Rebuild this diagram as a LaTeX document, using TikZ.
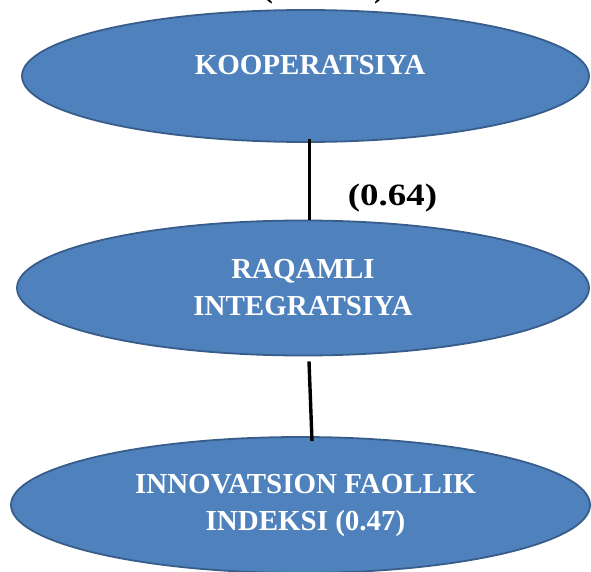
\documentclass[tikz,border=0pt]{standalone}
\usepackage{fontspec}
\setmainfont{Liberation Serif}
\usetikzlibrary{shapes.geometric}
\definecolor{ovalfill}{HTML}{4F81BD}
\definecolor{ovalline}{HTML}{385D8A}
\begin{document}
\begin{tikzpicture}[x=1pt,y=-1pt,
  oval/.style={ellipse, fill=ovalfill, draw=ovalline, line width=1.8pt,
    inner sep=0pt, text=white, align=center,
    font=\fontsize{29}{37}\selectfont\bfseries},
  link/.style={line width=3.4pt, black},
  weight/.style={font=\fontsize{31}{37}\selectfont\bfseries, anchor=base, inner sep=0pt}]
\useasboundingbox (0,0) rectangle (591,572);

% coefficient above the top oval (runs off the top edge)
\node[weight] (w0) at (323.5,-2) {(\hspace{101pt})};

% the three ovals
\node[oval, minimum width=567pt, minimum height=132pt] (e1) at (305.5,76)
  {\hspace*{9pt}\raisebox{22pt}{KOOPERATSIYA}};
\node[oval, minimum width=572pt, minimum height=135pt] (e2) at (303,288)
  {RAQAMLI\\INTEGRATSIYA};
\node[oval, minimum width=579pt, minimum height=136pt] (e3) at (300.5,505)
  {\hspace*{10pt}INNOVATSION FAOLLIK\\\hspace*{10pt}INDEKSI (0.47)};

% connectors
\draw[link] ([shift={(4pt,4pt)}]e1.south) -- ([xshift=6.5pt]e2.north);
\draw[link] ([shift={(6pt,-5pt)}]e2.south) -- ([shift={(11.5pt,-5pt)}]e3.north);

% coefficient beside the upper connector
\node[weight] (w1) at (392.5,205) {\scalebox{1.19}[1]{(0.64)}};
\end{tikzpicture}
\end{document}
